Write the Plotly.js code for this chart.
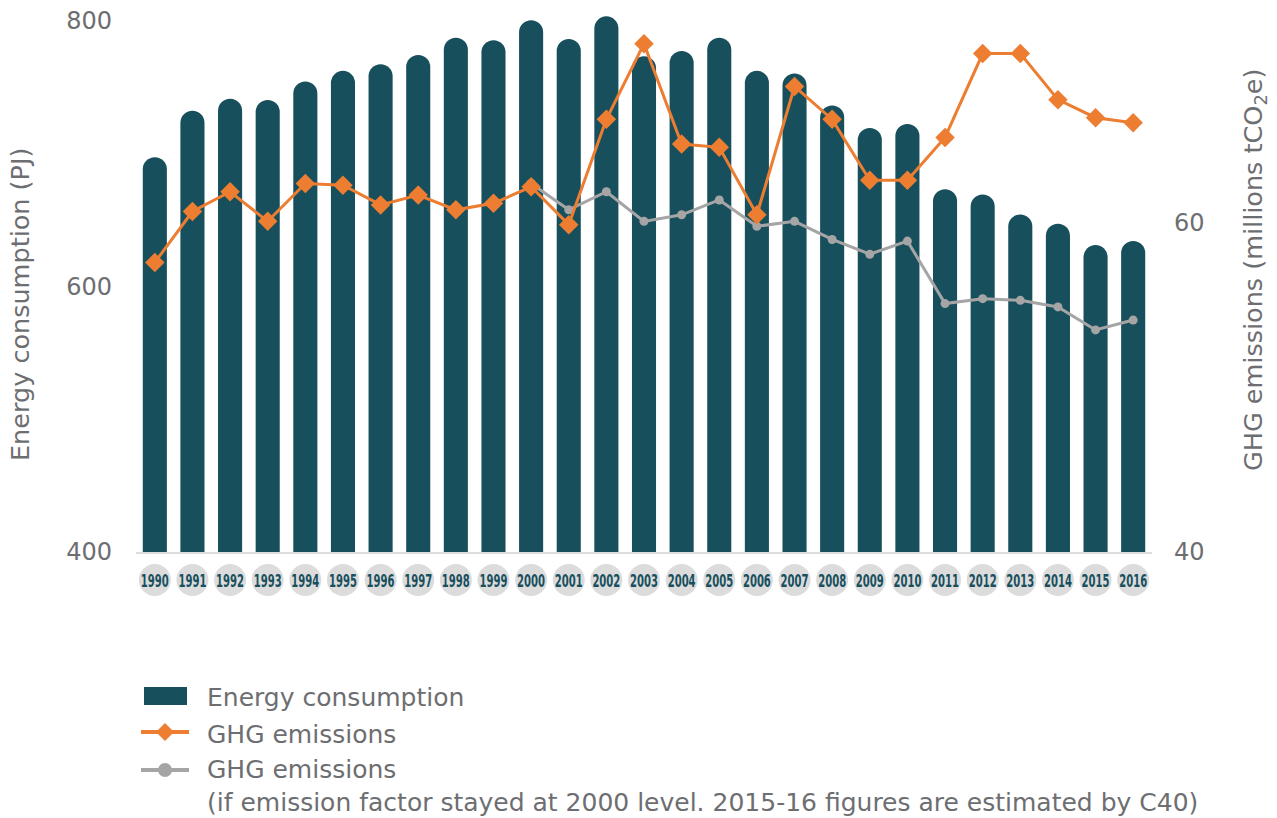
<!DOCTYPE html>
<html>
<head>
<meta charset="utf-8">
<script src="https://cdn.plot.ly/plotly-3.0.1.min.js"></script>
<style>
  html, body { margin: 0; padding: 0; background: #ffffff; }
  #chart { width: 1277px; height: 818px; }
</style>
</head>
<body>
<div id="chart"></div>
<script>
// Years on the category axis
const years = [1990, 1991, 1992, 1993, 1994, 1995, 1996, 1997, 1998, 1999,
  2000, 2001, 2002, 2003, 2004, 2005, 2006, 2007, 2008, 2009,
  2010, 2011, 2012, 2013, 2014, 2015, 2016];

// Energy consumption, PJ (left axis)
const energyPJ = [697, 732, 741, 740, 754, 762, 767, 774, 787, 785,
  800, 786, 803, 773, 777, 787, 762, 760, 736, 719,
  722, 673, 669, 654, 647, 631, 634];

// GHG emissions, millions tCO2e (right axis)
const ghg = [57.6, 60.7, 61.9, 60.1, 62.4, 62.3, 61.1, 61.7, 60.8, 61.2,
  62.2, 59.9, 66.3, 70.9, 64.8, 64.6, 60.5, 68.3, 66.3, 62.6,
  62.6, 65.2, 70.3, 70.3, 67.5, 66.4, 66.1];

// GHG emissions with the emission factor held at its 2000 level
const ghgFixedYears = [2000, 2001, 2002, 2003, 2004, 2005, 2006, 2007, 2008,
  2009, 2010, 2011, 2012, 2013, 2014, 2015, 2016];
const ghgFixed = [62.4, 60.8, 61.9, 60.1, 60.5, 61.4, 59.8, 60.1, 59.0,
  58.1, 58.9, 55.1, 55.4, 55.3, 54.9, 53.5, 54.1];

const yearLabels = years.map(String);

const legendNames = [
  'Energy consumption',
  'GHG emissions',
  'GHG emissions<br>(if emission factor stayed at 2000 level. 2015-16 figures are estimated by C40)'
];
const leftTitle = 'Energy consumption (PJ)';
const rightTitle = 'GHG emissions (millions tCO<sub>2</sub>e)';

const TEAL = '#184f5c';
const ORANGE = '#ed7d31';
const GREY = '#a5a5a5';
const TEXT = '#6d6e71';
const FONT = '"DejaVu Sans", Verdana, sans-serif';

// Page geometry (pixels)
const W = 1277, H = 818;
const M = { l: 136, r: 125, t: 8, b: 218 };
const plotW = W - M.l - M.r;
const plotH = H - M.t - M.b;
const px = x => (x - M.l) / plotW;
const py = y => (H - M.b - y) / plotH;

const traces = [
  {
    type: 'bar',
    x: yearLabels,
    y: energyPJ,
    marker: { color: TEAL },
    name: legendNames[0],
    hoverinfo: 'x+y'
  },
  {
    type: 'scatter',
    mode: 'lines+markers',
    x: ghgFixedYears.map(String),
    y: ghgFixed,
    yaxis: 'y2',
    line: { color: GREY, width: 3 },
    marker: { color: GREY, size: 9, symbol: 'circle' },
    name: 'GHG emissions (2000 emission factor)'
  },
  {
    type: 'scatter',
    mode: 'lines+markers',
    x: yearLabels,
    y: ghg,
    yaxis: 'y2',
    line: { color: ORANGE, width: 3 },
    marker: { color: ORANGE, size: 15, symbol: 'diamond' },
    name: legendNames[1]
  },
  {
    // grey discs under the bars
    type: 'scatter',
    mode: 'markers',
    x: yearLabels,
    y: years.map(() => 0.5),
    yaxis: 'y3',
    marker: { color: '#dcdcdd', size: 32, symbol: 'circle' },
    cliponaxis: false,
    hoverinfo: 'skip'
  },
  {
    // year labels sitting on the discs
    type: 'scatter',
    mode: 'text',
    x: yearLabels,
    y: years.map(() => 0.42),
    yaxis: 'y3',
    text: yearLabels,
    textposition: 'middle center',
    textfont: { family: FONT, size: 17, color: TEAL, weight: 700 },
    cliponaxis: false,
    hoverinfo: 'skip'
  }
];

// Hand-drawn legend block
const lg = { x0: 141, x1: 189, xc: 165, textX: 205, rows: [697, 732, 770] };
const shapes = [
  { type: 'rect', xref: 'paper', yref: 'paper',
    x0: px(144), x1: px(187), y0: py(705), y1: py(687),
    fillcolor: TEAL, line: { width: 0 } },
  { type: 'line', xref: 'paper', yref: 'paper',
    x0: px(lg.x0), x1: px(lg.x1), y0: py(lg.rows[1]), y1: py(lg.rows[1]),
    line: { color: ORANGE, width: 4 } },
  { type: 'path', xref: 'paper', yref: 'paper',
    path: `M ${px(lg.xc - 9)} ${py(lg.rows[1])} L ${px(lg.xc)} ${py(lg.rows[1] - 9)} L ${px(lg.xc + 9)} ${py(lg.rows[1])} L ${px(lg.xc)} ${py(lg.rows[1] + 9)} Z`,
    fillcolor: ORANGE, line: { width: 0 } },
  { type: 'line', xref: 'paper', yref: 'paper',
    x0: px(lg.x0), x1: px(lg.x1), y0: py(lg.rows[2]), y1: py(lg.rows[2]),
    line: { color: GREY, width: 4 } },
  { type: 'circle', xref: 'paper', yref: 'paper',
    x0: px(lg.xc - 7), x1: px(lg.xc + 7), y0: py(lg.rows[2] + 7), y1: py(lg.rows[2] - 7),
    fillcolor: GREY, line: { width: 0 } }
];

const LEGEND_FONT = { family: FONT, size: 25, color: TEXT };
const TITLE_FONT = { family: FONT, size: 25.5, color: TEXT };
const annotations = [
  { xref: 'paper', yref: 'paper', x: px(lg.textX), y: py(697),
    xanchor: 'left', yanchor: 'middle', showarrow: false, align: 'left',
    text: legendNames[0], font: LEGEND_FONT },
  { xref: 'paper', yref: 'paper', x: px(lg.textX), y: py(734),
    xanchor: 'left', yanchor: 'middle', showarrow: false, align: 'left',
    text: legendNames[1], font: LEGEND_FONT },
  { xref: 'paper', yref: 'paper', x: px(lg.textX), y: py(786),
    xanchor: 'left', yanchor: 'middle', showarrow: false, align: 'left',
    text: legendNames[2], font: LEGEND_FONT },
  // axis titles
  { xref: 'paper', yref: 'paper', x: px(20), y: py(305),
    xanchor: 'center', yanchor: 'middle', showarrow: false, textangle: -90,
    text: leftTitle, font: TITLE_FONT },
  { xref: 'paper', yref: 'paper', x: px(1254), y: py(270),
    xanchor: 'center', yanchor: 'middle', showarrow: false, textangle: -90,
    text: rightTitle, font: TITLE_FONT }
];

const layout = {
  width: W,
  height: H,
  margin: M,
  paper_bgcolor: '#ffffff',
  plot_bgcolor: 'rgba(0,0,0,0)',
  showlegend: false,
  bargap: 0.36,
  barcornerradius: '50%',
  font: { family: FONT, color: TEXT },
  xaxis: {
    type: 'category',
    range: [-0.5, years.length - 0.5],
    showticklabels: false,
    ticks: '',
    showgrid: false,
    zeroline: false,
    showline: true,
    linecolor: '#dddddd',
    linewidth: 2,
    anchor: 'y'
  },
  yaxis: {
    domain: [py(552), 1],
    range: [400, 809.3],
    tickvals: [400, 600, 800],
    ticks: '',
    ticklabelstandoff: 23,
    showgrid: false,
    zeroline: false,
    showline: false,
    tickfont: { family: FONT, size: 24, color: TEXT }
  },
  yaxis2: {
    overlaying: 'y',
    side: 'right',
    range: [40, 73.07],
    tickvals: [40, 60],
    ticks: '',
    ticklabelstandoff: 21,
    showgrid: false,
    zeroline: false,
    showline: false,
    tickfont: { family: FONT, size: 24, color: TEXT }
  },
  yaxis3: {
    domain: [0, 2 * py(580)],
    range: [0, 1],
    anchor: 'x',
    visible: false,
    fixedrange: true
  },
  shapes: shapes,
  annotations: annotations
};

// Year labels use a tall, narrow look: squeeze each one horizontally about its centre
const YEAR_LABEL_WIDTH = 28;
function narrowYearLabels(gd) {
  gd.querySelectorAll('.scatterlayer .textpoint text').forEach(t => {
    const w = t.getComputedTextLength();
    if (!w) return;
    const k = YEAR_LABEL_WIDTH / w;
    const cx = parseFloat(t.getAttribute('x')) || 0;
    const prev = t.getAttribute('transform') || '';
    t.setAttribute('transform',
      `${prev} translate(${cx},0) scale(${k},1) translate(${-cx},0)`.trim());
  });
}

Plotly.newPlot('chart', traces, layout, { staticPlot: true, displayModeBar: false })
  .then(narrowYearLabels);
</script>
</body>
</html>
